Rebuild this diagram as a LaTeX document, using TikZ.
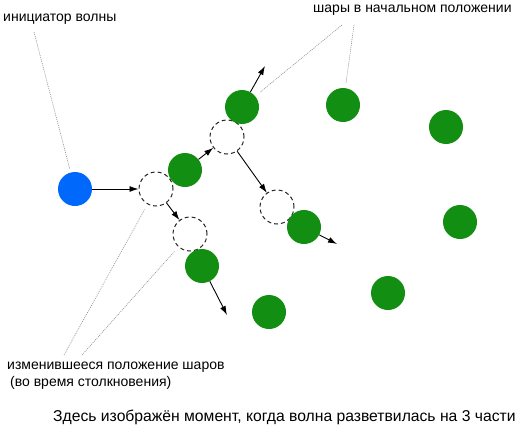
\documentclass[tikz,border=0pt]{standalone}
\usepackage{fontspec}
\setmainfont{Liberation Sans}
\usetikzlibrary{arrows.meta}
\definecolor{ballgreen}{RGB}{18,142,18}
\definecolor{ballblue}{RGB}{0,104,250}

\begin{document}
\begin{tikzpicture}[x=1pt, y=-1pt, every node/.style={font=\fontsize{14}{18}\selectfont},
    ball/.style={circle, fill=ballgreen, minimum size=34pt, inner sep=0pt},
    moved/.style={circle, draw=black!85, dash pattern=on 4pt off 3pt, line width=1pt, minimum size=34pt, inner sep=0pt},
    push/.style={-{Latex[length=9pt, width=6pt]}, line width=0.9pt},
    leader/.style={gray!90, line width=0.6pt, dash pattern=on 1pt off 1pt},
    lbl/.style={inner sep=0pt, anchor=west}]
        \useasboundingbox (0,0) rectangle (524,431);
        % Initiator of the wave
            \node[circle, fill=ballblue, minimum size=34pt, inner sep=0pt] (init) at (75, 189) {};
        % Balls in their new positions (during collision)
            \node[moved] (d1) at (156, 189) {};
            \node[moved] (d2) at (227, 137) {};
            \node[moved] (d3) at (277, 207) {};
            \node[moved] (d4) at (190, 234) {};
        % Balls that have been pushed
            \node[ball] (g1) at (185, 170) {};
            \node[ball] (g2) at (242, 107) {};
            \node[ball] (g3) at (304, 227) {};
            \node[ball] (g4) at (202, 266) {};
        % Balls in their initial positions
            \node[ball] (b1) at (343, 105) {};
            \node[ball] (b2) at (446, 127) {};
            \node[ball] (b3) at (460, 222) {};
            \node[ball] (b4) at (388, 293) {};
            \node[ball] (b5) at (269, 312) {};
        % Wave arrows
            \coordinate (t2) at (265, 66);
            \coordinate (t3) at (337, 244);
            \coordinate (t4) at (227, 315);
            \draw[push] (init) -- (d1);
            \draw[push] (d1) -- (d4);
            \draw[push] (g1) -- (d2);
            \draw[push] (d2) -- (d3);
            \draw[push] (g2) -- (t2);
            \draw[push] (g3) -- (t3);
            \draw[push] (g4) -- (t4);
        % Labels
            \node[lbl] (linit) at (3, 19) {инициатор волны};
            \node[lbl] (lstart) at (313, 10) {шары в начальном положении};
            \node[lbl, align=left, font=\fontsize{14}{17}\selectfont] (lmoved) at (7, 376) {изменившееся положение шаров\\\hspace{3pt}(во время столкновения)};
            \node[lbl, font=\fontsize{15.7}{18}\selectfont] (lnote) at (53, 417) {Здесь изображён момент, когда волна разветвилась на 3 части};
        % Dotted leader lines
            \coordinate (p1) at (34, 32);
            \coordinate (p2) at (342, 25);
            \coordinate (p3) at (354, 25);
            \coordinate (p4) at (64, 355);
            \coordinate (p5) at (82, 355);
            \draw[leader, shorten >=4pt] (p1) -- (init);
            \draw[leader, shorten >=6pt] (p2) -- (g2);
            \draw[leader, shorten >=5pt] (p3) -- (b1);
            \draw[leader, shorten >=6pt] (p4) -- (d1);
            \draw[leader, shorten >=6pt] (p5) -- (d4);
\end{tikzpicture}
\end{document}
